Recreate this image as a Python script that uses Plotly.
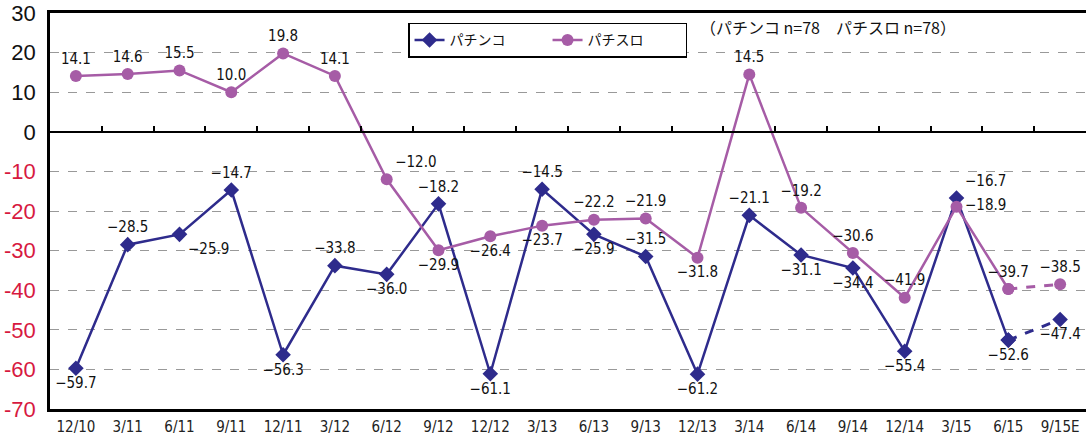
import plotly.graph_objects as go

categories = ["12/10", "3/11", "6/11", "9/11", "12/11", "3/12", "6/12", "9/12", "12/12", "3/13",
              "6/13", "9/13", "12/13", "3/14", "6/14", "9/14", "12/14", "3/15", "6/15", "9/15E"]
pachinko = [-59.7, -28.5, -25.9, -14.7, -56.3, -33.8, -36.0, -18.2, -61.1, -14.5,
            -25.9, -31.5, -61.2, -21.1, -31.1, -34.4, -55.4, -16.7, -52.6, -47.4]
pachislot = [14.1, 14.6, 15.5, 10.0, 19.8, 14.1, -12.0, -29.9, -26.4, -23.7,
             -22.2, -21.9, -31.8, 14.5, -19.2, -30.6, -41.9, -18.9, -39.7, -38.5]
y_ticks = [30, 20, 10, 0, -10, -20, -30, -40, -50, -60, -70]

NAVY = "#2e2b8c"
PURPLE = "#a65ca6"
RED = "#d7193f"
LABEL_FONT = dict(family="Liberation Sans Narrow, DejaVu Sans Condensed, sans-serif", size=15, color="#111")

pk_pos = ["bottom center", "top center", "bottom right", "top center", "bottom center",
          "top center", "bottom center", "top center", "bottom center", "top center",
          "bottom center", "top center", "bottom center", "top center", "bottom center",
          "bottom center", "bottom center", "top right", "bottom center", "bottom center"]
ps_pos = ["top center", "top center", "top center", "top center", "top center",
          "top center", "top right", "bottom center", "bottom center", "bottom center",
          "top center", "top center", "bottom center", "top center", "top center",
          "top center", "top center", "middle right", "top center", "top center"]

x = list(range(len(categories)))
n = len(categories)
fmt = lambda v: f"{v:.1f}".replace("-", "\u2212")

fig = go.Figure()

# solid parts
fig.add_trace(go.Scatter(
    x=x[:n - 1], y=pachinko[:n - 1], mode="lines+markers+text", name="パチンコ",
    line=dict(color=NAVY, width=2.5), marker=dict(symbol="diamond", size=12, color=NAVY),
    text=[fmt(v) for v in pachinko[:n - 1]], textposition=pk_pos[:n - 1], textfont=LABEL_FONT,
    cliponaxis=False))
fig.add_trace(go.Scatter(
    x=x[:n - 1], y=pachislot[:n - 1], mode="lines+markers+text", name="パチスロ",
    line=dict(color=PURPLE, width=2.5), marker=dict(symbol="circle", size=12, color=PURPLE),
    text=[fmt(v) for v in pachislot[:n - 1]], textposition=ps_pos[:n - 1], textfont=LABEL_FONT,
    cliponaxis=False))
# dashed forecast segments
fig.add_trace(go.Scatter(
    x=x[n - 2:], y=pachinko[n - 2:], mode="lines+markers+text", showlegend=False,
    line=dict(color=NAVY, width=3, dash="dash"), marker=dict(symbol="diamond", size=12, color=NAVY),
    text=["", fmt(pachinko[-1])], textposition=["bottom center", "bottom center"], textfont=LABEL_FONT,
    cliponaxis=False))
fig.add_trace(go.Scatter(
    x=x[n - 2:], y=pachislot[n - 2:], mode="lines+markers+text", showlegend=False,
    line=dict(color=PURPLE, width=3, dash="dash"), marker=dict(symbol="circle", size=12, color=PURPLE),
    text=["", fmt(pachislot[-1])], textposition=["top center", "top center"], textfont=LABEL_FONT,
    cliponaxis=False))
# helper trace for the zero-line axis with tick marks
fig.add_trace(go.Scatter(x=[0], y=[None], xaxis="x2", showlegend=False, hoverinfo="skip", mode="markers"))

ytext = [str(v) if v >= 0 else f"<span style='color:{RED}'>{v}</span>" for v in y_ticks]

fig.update_layout(
    width=1086, height=436,
    margin=dict(l=50, r=0, t=13, b=23),
    paper_bgcolor="white", plot_bgcolor="white",
    showlegend=True,
    legend=dict(orientation="h", x=0.3456, y=0.975, xanchor="left", yanchor="top",
                bordercolor="black", borderwidth=1.5, bgcolor="white",
                font=dict(family="Noto Sans CJK JP", size=14, color="#111"),
                entrywidth=93, itemwidth=30),
    xaxis=dict(range=[-0.5, n - 0.5], tickmode="array", tickvals=x, ticktext=categories,
               showgrid=False, zeroline=False, showline=True, linecolor="black", linewidth=2.5,
               mirror=True, ticks="", ticklabelstandoff=2,
               tickfont=dict(family="Liberation Sans Narrow, DejaVu Sans Condensed, sans-serif", size=15, color="#222")),
    xaxis2=dict(range=[-0.5, n - 0.5], overlaying="x", anchor="free", position=0.7, side="bottom",
                tickmode="array", tickvals=[i + 0.5 for i in x[:-1]], ticks="inside", ticklen=5,
                tickwidth=1.5, tickcolor="black",
                showticklabels=False, showgrid=False, zeroline=False,
                showline=True, linecolor="black", linewidth=2),
    yaxis=dict(range=[-70, 30], tickmode="array", tickvals=y_ticks, ticktext=ytext,
               showgrid=True, gridcolor="#999", griddash="dash", gridwidth=1,
               zeroline=False, showline=True, linecolor="black", linewidth=2.5,
               ticks="", ticklabelstandoff=7,
               tickfont=dict(family="Liberation Sans, Arial, sans-serif", size=22, color="#111")),
    annotations=[dict(text="（パチンコ n=78　パチスロ n=78）", xref="paper", yref="paper",
                      x=0.625, y=0.965, xanchor="left", yanchor="middle", showarrow=False,
                      font=dict(family="Noto Sans CJK JP", size=16, color="#111"))],
)

fig.write_html("out.html")
